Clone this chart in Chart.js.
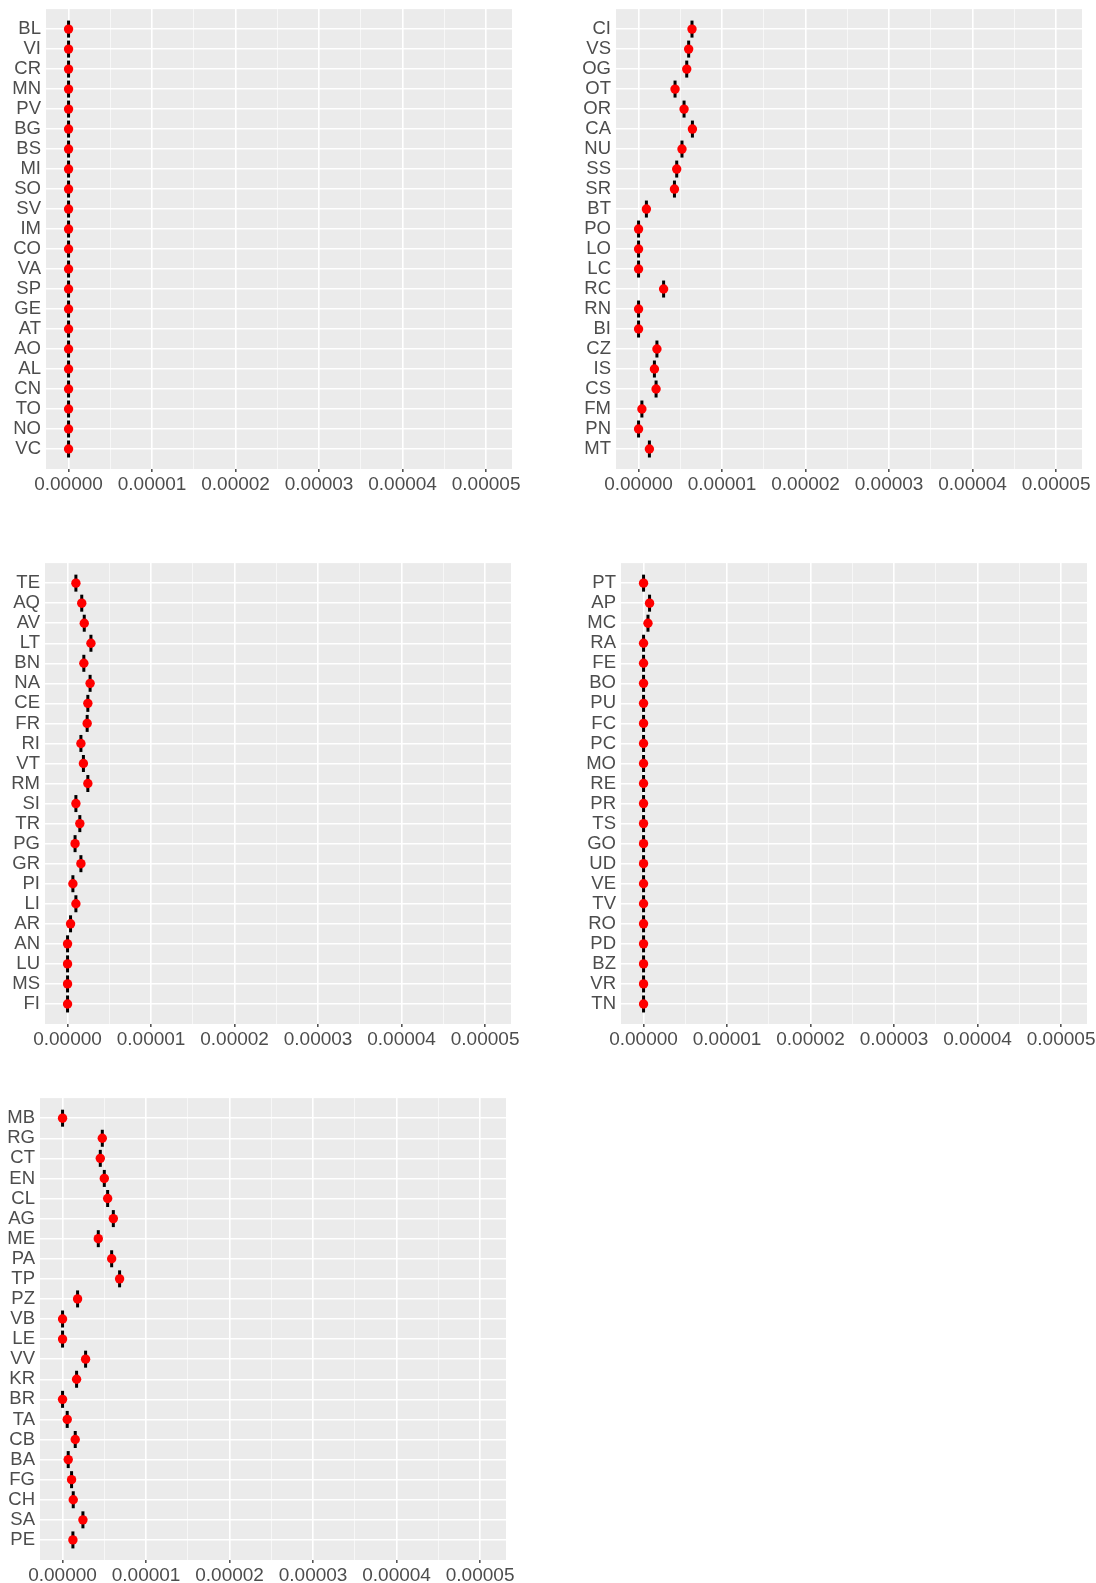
<!DOCTYPE html>
<html>
<head>
<meta charset="utf-8">
<script src="https://cdn.jsdelivr.net/npm/chart.js@4.4.1/dist/chart.umd.min.js"></script>
<style>
  body { margin: 0; background: #fff; width: 1096px; height: 1583px; position: relative; overflow: hidden; }
  canvas { position: absolute; }
</style>
</head>
<body>
<canvas id="c1"></canvas>
<canvas id="c2"></canvas>
<canvas id="c3"></canvas>
<canvas id="c4"></canvas>
<canvas id="c5"></canvas>
<script>
// categories and values for each facet (top to bottom)
var labels1 = ['BL','VI','CR','MN','PV','BG','BS','MI','SO','SV','IM','CO','VA','SP','GE','AT','AO','AL','CN','TO','NO','VC'];
var values1 = [0,0,0,0,0,0,0,0,0,0,0,0,0,0,0,0,0,0,0,0,0,0];

var labels2 = ['CI','VS','OG','OT','OR','CA','NU','SS','SR','BT','PO','LO','LC','RC','RN','BI','CZ','IS','CS','FM','PN','MT'];
var values2 = [6.4e-6,6.0e-6,5.77e-6,4.37e-6,5.45e-6,6.45e-6,5.2e-6,4.57e-6,4.3e-6,0.94e-6,0,0,0,3.0e-6,0,0,2.2e-6,1.9e-6,2.1e-6,0.4e-6,0,1.3e-6];

var labels3 = ['TE','AQ','AV','LT','BN','NA','CE','FR','RI','VT','RM','SI','TR','PG','GR','PI','LI','AR','AN','LU','MS','FI'];
var values3 = [1.0e-6,1.7e-6,2.0e-6,2.8e-6,1.95e-6,2.7e-6,2.43e-6,2.35e-6,1.6e-6,1.9e-6,2.43e-6,1.0e-6,1.47e-6,0.9e-6,1.6e-6,0.64e-6,1.0e-6,0.36e-6,0,0,0,0];

var labels4 = ['PT','AP','MC','RA','FE','BO','PU','FC','PC','MO','RE','PR','TS','GO','UD','VE','TV','RO','PD','BZ','VR','TN'];
var values4 = [0,0.72e-6,0.53e-6,0,0,0,0,0,0,0,0,0,0,0,0,0,0,0,0,0,0,0];

var labels5 = ['MB','RG','CT','EN','CL','AG','ME','PA','TP','PZ','VB','LE','VV','KR','BR','TA','CB','BA','FG','CH','SA','PE'];
var values5 = [0,4.76e-6,4.52e-6,5.0e-6,5.4e-6,6.08e-6,4.28e-6,5.88e-6,6.83e-6,1.8e-6,0,0,2.76e-6,1.68e-6,0,0.56e-6,1.52e-6,0.68e-6,1.08e-6,1.28e-6,2.44e-6,1.24e-6];

var xMin = -0.0000027;
var xMax = 0.0000531;
var xTickValues = [0, 0.000005, 0.00001, 0.000015, 0.00002, 0.000025, 0.00003, 0.000035, 0.00004, 0.000045, 0.00005];

var YW = 41;   // room for category labels
var XH = 30;   // room for x tick labels
var PADR = 14;
var PADT = 12;
var FONT = '"Liberation Sans", Arial, sans-serif';

var panelBg = {
  id: 'panelBg',
  beforeDraw: function(chart) {
    var a = chart.chartArea, ctx = chart.ctx;
    ctx.save();
    ctx.fillStyle = '#EBEBEB';
    ctx.fillRect(a.left, a.top, a.right - a.left, a.bottom - a.top);
    ctx.restore();
  }
};

function makePanel(id, labels, values, left, top, width, height) {
  var canvas = document.getElementById(id);
  var cw = YW + width + PADR, ch = PADT + height + XH;
  canvas.width = cw; canvas.height = ch;
  canvas.style.width = cw + 'px'; canvas.style.height = ch + 'px';
  canvas.style.left = (left - YW) + 'px';
  canvas.style.top = (top - PADT) + 'px';

  var pts = labels.map(function(l, i) { return { x: values[i], y: i }; });

  new Chart(canvas, {
    type: 'scatter',
    data: {
      datasets: [
        { data: pts, pointStyle: 'circle', pointRadius: 4.7, backgroundColor: '#FF0000', borderColor: '#FF0000', borderWidth: 0, order: 0 },
        { data: pts, pointStyle: 'line', rotation: 90, pointRadius: 8.5, borderColor: '#000000', borderWidth: 3, order: 1 }
      ]
    },
    options: {
      responsive: false,
      animation: false,
      events: [],
      layout: { padding: { left: 0, right: PADR, top: PADT, bottom: 0 } },
      plugins: { legend: { display: false }, tooltip: { enabled: false } },
      scales: {
        x: {
          type: 'linear',
          min: xMin, max: xMax,
          afterBuildTicks: function(scale) {
            scale.ticks = xTickValues.map(function(v) { return { value: v }; });
          },
          afterFit: function(scale) { scale.height = XH; },
          border: { display: false },
          grid: {
            color: function(c) { return c.index % 2 ? 'rgba(255,255,255,0.75)' : '#FFFFFF'; },
            lineWidth: function(c) { return c.index % 2 ? 0.8 : 1.6; },
            tickColor: function(c) { return c.index % 2 ? 'rgba(0,0,0,0)' : '#555555'; },
            tickLength: 3
          },
          ticks: {
            autoSkip: false, maxRotation: 0, padding: 1,
            color: '#4D4D4D',
            font: { family: FONT, size: 19 },
            callback: function(v, i) { return i % 2 ? '' : v.toFixed(5); }
          }
        },
        y: {
          type: 'linear',
          reverse: true,
          min: -1, max: labels.length,
          afterBuildTicks: function(scale) {
            scale.ticks = labels.map(function(l, i) { return { value: i }; });
          },
          afterFit: function(scale) { scale.width = YW; },
          border: { display: false },
          grid: { color: '#FFFFFF', lineWidth: 1.5, tickColor: 'rgba(0,0,0,0)', tickLength: 3 },
          ticks: {
            autoSkip: false, padding: 2,
            color: '#4D4D4D',
            font: { family: FONT, size: 18.5 },
            callback: function(v) { return labels[v]; }
          }
        }
      }
    },
    plugins: [panelBg]
  });
}

makePanel('c1', labels1, values1, 46, 8, 466, 461);
makePanel('c2', labels2, values2, 616, 8, 466, 461);
makePanel('c3', labels3, values3, 45, 562, 466, 462);
makePanel('c4', labels4, values4, 621, 562, 466, 462);
makePanel('c5', labels5, values5, 40, 1097, 466, 463);
</script>
</body>
</html>
